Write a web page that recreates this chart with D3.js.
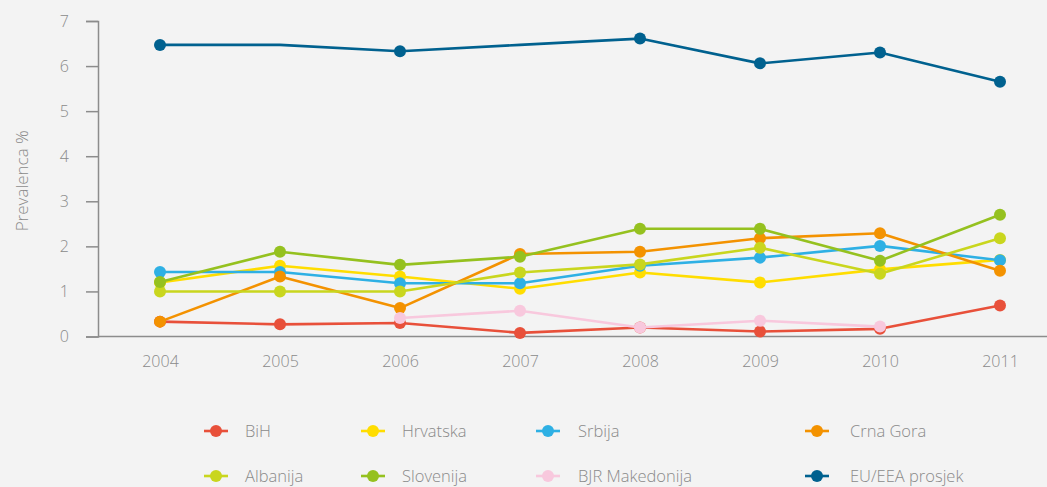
<!DOCTYPE html>
<html>
<head>
<meta charset="utf-8">
<script src="https://cdn.jsdelivr.net/npm/d3@7"></script>
<style>
  html, body { margin: 0; padding: 0; background: #f3f3f3; }
  svg { display: block; font-family: "Open Sans", "Noto Sans", sans-serif; font-weight: 300; }
</style>
</head>
<body>
<div id="chart"></div>
<script>
// godine i vrijednosti (prevalenca %)
let years = [2004, 2005, 2006, 2007, 2008, 2009, 2010, 2011];
let yTicks = [0, 1, 2, 3, 4, 5, 6, 7];

let bih       = [0.33, 0.27, 0.30, 0.08, 0.20, 0.11, 0.17, 0.69];
let hrvatska  = [1.20, 1.57, 1.33, 1.06, 1.42, 1.20, 1.49, 1.70];
let srbija    = [1.43, 1.43, 1.18, 1.18, 1.57, 1.75, 2.01, 1.69];
let crnaGora  = [0.33, 1.33, 0.63, 1.83, 1.88, 2.18, 2.29, 1.46];
let albanija  = [1.00, 1.00, 1.00, 1.42, 1.60, 1.97, 1.39, 2.18];
let slovenija = [1.21, 1.88, 1.59, 1.77, 2.39, 2.39, 1.68, 2.70];
let makedonija = [null, null, 0.41, 0.57, 0.20, 0.35, 0.22, null];
let euProsjek = [6.47, 6.47, 6.33, 6.47, 6.61, 6.06, 6.30, 5.65];
// godine bez oznake na EU liniji
let euNoMarker = [2005, 2007];

let series = [
  {name: "BiH", values: bih, color: "#e8503a"},
  {name: "Hrvatska", values: hrvatska, color: "#ffdd00"},
  {name: "Srbija", values: srbija, color: "#2eb0e4"},
  {name: "Crna Gora", values: crnaGora, color: "#f39200"},
  {name: "Albanija", values: albanija, color: "#c9d61e"},
  {name: "Slovenija", values: slovenija, color: "#95c11f"},
  {name: "BJR Makedonija", values: makedonija, color: "#f8c8dd"},
  {name: "EU/EEA prosjek", values: euProsjek, color: "#00618f"}
];

let width = 1047, height = 487,
    margin = ({top: 21, right: 0, bottom: 151, left: 98});

let x = d3.scaleLinear()
    .domain([2004, 2011])
    .range([160, 1000]);
let y = d3.scaleLinear()
    .domain([0, 7])
    .range([height - margin.bottom + 0.5, margin.top]);

const svg = d3.select("#chart").append("svg")
    .attr("width", width)
    .attr("height", height);

svg.append("rect").attr("width", width).attr("height", height).attr("fill", "#f3f3f3");

// y os
let yAxis = g => g
    .attr("transform", `translate(${margin.left},0)`)
    .call(d3.axisLeft(y).tickValues(yTicks).tickFormat(d3.format("d")).tickSize(12).tickPadding(17))
    .call(g => g.select(".domain").attr("stroke", "#8c8c8c").attr("stroke-width", 1.5))
    .call(g => g.selectAll(".tick line").attr("stroke", "#8c8c8c").attr("stroke-width", 1.5))
    .call(g => g.selectAll(".tick text").attr("fill", "#8a8a8a").attr("font-size", 16)
        .attr("font-family", "'Open Sans', sans-serif").attr("font-weight", 300));

let xAxis = g => g
    .attr("transform", `translate(0,${y(0)})`)
    .call(d3.axisBottom(x).tickValues(years).tickFormat(d3.format("d")).tickSize(0).tickPadding(19))
    .call(g => g.select(".domain").attr("d", `M${margin.left},0H${width}`)
        .attr("stroke", "#8c8c8c").attr("stroke-width", 1.5))
    .call(g => g.selectAll(".tick text").attr("fill", "#8a8a8a").attr("font-size", 16)
        .attr("font-family", "'Open Sans', sans-serif").attr("font-weight", 300));

svg.append("g").call(xAxis);
svg.append("g").call(yAxis);

svg.append("text")
    .attr("transform", `translate(28,${(y(0) + y(7)) / 2 + 2}) rotate(-90)`)
    .attr("text-anchor", "middle")
    .attr("fill", "#8a8a8a")
    .attr("font-size", 17)
    .text("Prevalenca %");

let line = d3.line()
    .defined(d => d.v != null)
    .x(d => x(d.year))
    .y(d => y(d.v));

let g = svg.append("g");
series.forEach(s => {
  let pts = years.map((yr, i) => ({year: yr, v: s.values[i]}));
  g.append("path")
      .datum(pts)
      .attr("fill", "none")
      .attr("stroke", s.color)
      .attr("stroke-width", 2.6)
      .attr("stroke-linejoin", "round")
      .attr("d", line);
  g.selectAll(null)
      .data(pts.filter(d => d.v != null && !(s.name == "EU/EEA prosjek" && euNoMarker.includes(d.year))))
      .join("circle")
      .attr("cx", d => x(d.year))
      .attr("cy", d => y(d.v))
      .attr("r", 6)
      .attr("fill", s.color);
});

// legenda
let legendOrder = ["BiH", "Hrvatska", "Srbija", "Crna Gora", "Albanija", "Slovenija", "BJR Makedonija", "EU/EEA prosjek"];
let colX = [216, 373, 548, 817], rowY = [431, 476];
let leg = svg.append("g")
    .selectAll("g")
    .data(legendOrder.map(n => series.find(s => s.name == n)))
    .join("g")
    .attr("transform", (d, i) => `translate(${colX[i % 4]},${rowY[Math.floor(i / 4)]})`);
leg.append("line")
    .attr("x1", -12).attr("x2", 12)
    .attr("stroke", d => d.color).attr("stroke-width", 2.6);
leg.append("circle").attr("r", 6).attr("fill", d => d.color);
leg.append("text")
    .attr("x", (d, i) => [29, 29, 30, 33][i % 4])
    .attr("dy", "0.35em")
    .attr("fill", "#8a8a8a")
    .attr("font-size", 16.5)
    .text(d => d.name);
</script>
</body>
</html>
